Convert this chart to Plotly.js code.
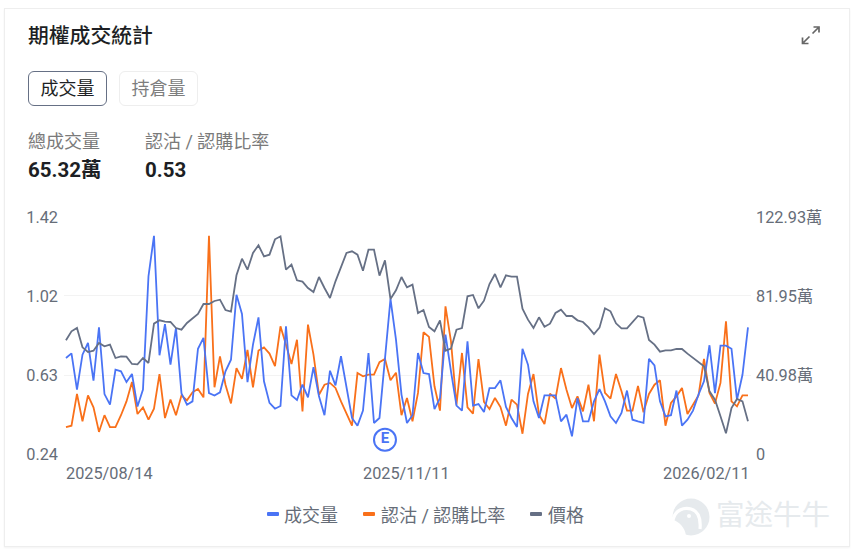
<!DOCTYPE html>
<html lang="zh-Hant"><head><meta charset="utf-8">
<script src="https://cdn.plot.ly/plotly-3.0.1.min.js"></script>
<style>
html,body{margin:0;padding:0;background:#fff;width:853px;height:553px;overflow:hidden;font-family:Roboto,"Noto Sans CJK TC",sans-serif}
.a{position:absolute;white-space:nowrap;line-height:1}
#card{left:4px;top:8px;width:844px;height:537px;border:1px solid #eeeeee;box-shadow:0 1px 2px rgba(0,0,0,.05);box-sizing:content-box}
#chart{position:absolute;left:0;top:0;width:853px;height:553px}
.btn{top:71px;height:35px;width:79px;box-sizing:border-box;border-radius:6px;text-align:center;font-size:18px;line-height:34px}
.lg{top:512px;width:12px;height:4px;border-radius:1px}
.lt{top:507px;font-size:18px;color:#666d78}
</style></head><body>
<div id="chart"></div>
<div class="a" id="card"></div>
<div class="a" style="left:28px;top:25.5px;font-size:20.8px;font-weight:500;color:#1d1f24">期權成交統計</div>
<svg class="a" style="left:798px;top:22px" width="26" height="26" viewBox="0 0 26 26" fill="none" stroke="#666" stroke-width="1.7">
<path d="M14.5 11.5 L20 6 M15.5 5 H21 V10.5 M11.5 14.5 L5.5 20.5 M4.5 15.5 V21.5 H10.5"/></svg>
<div class="a btn" style="left:28px;border:1.5px solid #667085;color:#1d1f24">成交量</div>
<div class="a btn" style="left:119px;border:1.5px solid #eeeeee;color:#7d7d7d">持倉量</div>
<div class="a" style="left:28px;top:133px;font-size:18px;color:#7a7a7a">總成交量</div>
<div class="a" style="left:145px;top:133px;font-size:18px;color:#7a7a7a">認沽 / 認購比率</div>
<div class="a" style="left:28px;top:160px;font-size:20.5px;font-weight:700;color:#1d1f24">65.32萬</div>
<div class="a" style="left:145px;top:160px;font-size:20.5px;font-weight:700;color:#1d1f24">0.53</div>
<div class="a lg" style="left:266.5px;background:#4a74f5"></div><div class="a lt" style="left:284px">成交量</div>
<div class="a lg" style="left:363px;background:#f9701a"></div><div class="a lt" style="left:381px">認沽 / 認購比率</div>
<div class="a lg" style="left:530px;background:#667085"></div><div class="a lt" style="left:548px">價格</div>
<svg class="a" style="left:672px;top:498px" width="38" height="38" viewBox="0 0 38 38">
<circle cx="19" cy="19" r="18.5" fill="#e6eaed"/>
<path d="M1 22 C3 12 12 9 19 11 C26 13 29 20 28 31" fill="none" stroke="#fff" stroke-width="3.2"/>
<path d="M0 21 C7 24 13 29 14 38 L0 38Z" fill="#fff"/>
<circle cx="17" cy="18" r="2" fill="#fff"/></svg>
<div class="a" style="left:716px;top:502px;font-size:28.5px;color:#e6eaed">富途牛牛</div>
<script>
const dates = [
"2025-08-14","2025-08-15","2025-08-18","2025-08-19","2025-08-20","2025-08-21","2025-08-22","2025-08-25","2025-08-26","2025-08-27","2025-08-28","2025-08-29",
"2025-09-02","2025-09-03","2025-09-04","2025-09-05","2025-09-08","2025-09-09","2025-09-10","2025-09-11","2025-09-12","2025-09-15","2025-09-16","2025-09-17","2025-09-18","2025-09-19","2025-09-22","2025-09-23","2025-09-24","2025-09-25","2025-09-26","2025-09-29","2025-09-30",
"2025-10-01","2025-10-02","2025-10-03","2025-10-06","2025-10-07","2025-10-08","2025-10-09","2025-10-10","2025-10-13","2025-10-14","2025-10-15","2025-10-16","2025-10-17","2025-10-20","2025-10-21","2025-10-22","2025-10-23","2025-10-24","2025-10-27","2025-10-28","2025-10-29","2025-10-30","2025-10-31",
"2025-11-03","2025-11-04","2025-11-05","2025-11-06","2025-11-07","2025-11-10","2025-11-11","2025-11-12","2025-11-13","2025-11-14","2025-11-17","2025-11-18","2025-11-19","2025-11-20","2025-11-21","2025-11-24","2025-11-25","2025-11-26","2025-11-28",
"2025-12-01","2025-12-02","2025-12-03","2025-12-04","2025-12-05","2025-12-08","2025-12-09","2025-12-10","2025-12-11","2025-12-12","2025-12-15","2025-12-16","2025-12-17","2025-12-18","2025-12-19","2025-12-22","2025-12-23","2025-12-24","2025-12-26","2025-12-29","2025-12-30","2025-12-31",
"2026-01-02","2026-01-05","2026-01-06","2026-01-07","2026-01-08","2026-01-09","2026-01-12","2026-01-13","2026-01-14","2026-01-15","2026-01-16","2026-01-20","2026-01-21","2026-01-22","2026-01-23","2026-01-26","2026-01-27","2026-01-28","2026-01-29","2026-01-30",
"2026-02-02","2026-02-03","2026-02-04","2026-02-05","2026-02-06","2026-02-09","2026-02-10","2026-02-11"];
const volume = [49.8,52.2,33.4,51.5,57.7,38.0,65.7,31.1,25.6,43.7,42.9,37.3,41.5,24.6,33.4,92.2,113.2,51.2,67.4,46.3,65.4,31.5,25.6,27.3,54.6,60.2,31.6,30.3,32.0,42.9,48.9,82.6,72.6,37.3,56.7,70.9,37.7,26.5,23.5,24.9,66.2,30.4,28.0,36.0,29.4,45.1,29.9,20.1,43.2,35.6,50.7,34.2,18.7,14.7,22.5,52.4,16.1,18.7,48.9,80.4,59.3,30.8,16.1,20.1,52.4,42.0,41.5,23.3,29.0,61.9,42.9,25.1,22.5,58.4,25.1,25.9,21.8,34.2,34.2,38.2,24.4,18.7,14.0,54.6,46.3,27.3,18.7,30.4,30.4,30.4,16.9,20.4,9.2,29.0,16.9,16.9,27.3,33.7,27.3,19.5,16.1,21.3,32.9,17.8,16.9,16.1,49.3,46.0,27.3,19.5,20.1,32.9,14.7,17.8,22.5,30.8,37.7,56.4,31.6,56.2,56.2,54.6,28.2,41.1,65.7];
const ratio = [.374,.381,.539,.403,.532,.472,.350,.433,.374,.374,.433,.502,.599,.439,.472,.411,.466,.638,.419,.511,.433,.532,.507,.547,.564,.522,1.327,.572,.726,.585,.492,.668,.614,.758,.572,.755,.771,.740,.678,.876,.784,.688,.809,.452,.884,.735,.535,.585,.594,.569,.502,.444,.381,.643,.627,.635,.635,.697,.713,.607,.645,.433,.519,.403,.544,.846,.823,.577,.456,.975,.801,.486,.743,.472,.441,.713,.499,.464,.519,.474,.381,.511,.486,.341,.539,.638,.436,.389,.540,.516,.668,.560,.469,.527,.452,.585,.403,.735,.544,.516,.638,.552,.456,.456,.579,.448,.539,.585,.607,.381,.494,.527,.569,.439,.486,.531,.713,.544,.491,.594,.901,.502,.477,.532,.532];
const price = [34.1,36.8,37.8,32.0,30.6,31.0,33.3,32.3,32.8,28.8,29.3,29.2,27.0,26.9,28.8,27.3,39.1,40.1,39.7,39.6,37.8,37.3,39.3,40.6,42.0,45.0,45.0,45.9,46.3,43.2,42.7,53.6,58.6,55.3,60.3,62.6,59.3,59.8,64.4,65.3,55.3,56.8,52.1,51.7,49.8,48.6,53.1,49.8,46.8,51.8,55.8,60.3,60.8,59.8,55.0,61.3,61.3,53.5,58.1,46.5,49.1,53.1,50.0,50.8,42.3,43.2,38.1,36.8,40.1,31.0,31.6,37.3,37.8,47.3,47.7,43.7,46.0,51.0,54.0,50.0,53.6,53.2,53.2,43.6,40.3,37.8,41.0,38.2,39.1,42.3,43.3,41.4,41.4,40.1,39.6,38.0,36.0,37.9,43.7,42.8,39.2,37.7,37.7,39.6,41.4,40.9,34.2,32.8,30.7,31.1,31.1,31.5,31.5,30.1,28.8,27.5,26.3,18.8,16.3,11.3,6.2,13.8,16.5,15.8,9.8];
const seriesNames = ["成交量","認沽 / 認購比率","價格"];
const leftTicks = [0.24,0.6333,1.0267,1.42], leftLabels = ["0.24","0.63","1.02","1.42"];
const rightTicks = [0,40.98,81.95,122.93], rightLabels = ["0","40.98萬","81.95萬","122.93萬"];
const earningsDate = ["2025-11-05"], earningsY = [0.311];
const xLabels = ["2025/08/14","2025/11/11","2026/02/11"], xLabelDates = ["2025-08-14","2025-11-11","2026-02-11"];
const font = 'Roboto,"Noto Sans CJK TC",sans-serif';
const axisFont = {family:font,size:16.3,color:"#666d78"};
const traces = [
 {x:dates,y:volume,name:seriesNames[0],yaxis:"y2",type:"scatter",mode:"lines",line:{color:"#4a74f5",width:1.8}},
 {x:dates,y:ratio,name:seriesNames[1],yaxis:"y",type:"scatter",mode:"lines",line:{color:"#f9701a",width:1.8}},
 {x:dates,y:price,name:seriesNames[2],yaxis:"y3",type:"scatter",mode:"lines",line:{color:"#667085",width:1.8}},
 {x:earningsDate,y:earningsY,yaxis:"y",type:"scatter",mode:"markers+text",text:["E"],textposition:"middle center",
  textfont:{family:font,size:15,color:"#4a74f5",weight:700},
  marker:{size:22,color:"#ffffff",line:{color:"#4a74f5",width:2}},showlegend:false}
];
const layout = {
 width:853,height:553,showlegend:false,paper_bgcolor:"rgba(0,0,0,0)",plot_bgcolor:"rgba(0,0,0,0)",
 margin:{l:64,r:102,t:217.3,b:98.7,pad:0},
 xaxis:{type:"category",categoryorder:"array",categoryarray:dates,range:[-0.36,124.55],showgrid:false,zeroline:false,showticklabels:false,ticks:"",showline:false},
 yaxis:{range:[0.24,1.42],tickvals:leftTicks,ticktext:leftLabels,showgrid:true,gridcolor:"#f3f3f3",gridwidth:1,zeroline:false,showline:false,ticks:"",tickfont:axisFont,ticklabelstandoff:5},
 yaxis2:{range:[0,122.93],overlaying:"y",side:"right",tickvals:rightTicks,ticktext:rightLabels,showgrid:false,zeroline:false,showline:false,ticks:"",tickfont:axisFont,ticklabelstandoff:4},
 yaxis3:{range:[0,71.1],overlaying:"y",side:"right",visible:false},
 annotations:xLabels.map((t,i)=>({text:t,x:xLabelDates[i],xref:"x",y:-0.083,yref:"paper",yanchor:"middle",
   xanchor:["left","center","right"][i],xshift:[-2,0,4][i],showarrow:false,font:axisFont}))
};
Plotly.newPlot("chart",traces,layout,{displayModeBar:false,staticPlot:true});
</script></body></html>
